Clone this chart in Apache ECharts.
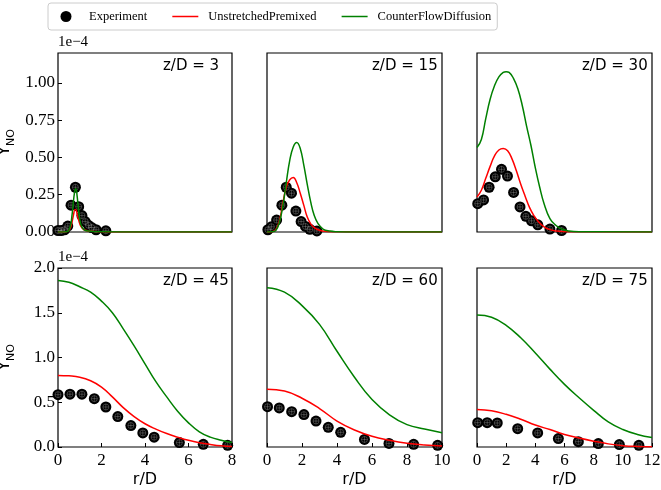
<!DOCTYPE html>
<html><head><meta charset="utf-8">
<script src="https://cdn.jsdelivr.net/npm/echarts@6/dist/echarts.min.js"></script>
<style>html,body{margin:0;padding:0;background:#fff}#c{width:661px;height:490px}</style>
</head><body><div id="c"></div>
<script>
// ---- labels / axes ----
const panelLabels = ['z/D = 3', 'z/D = 15', 'z/D = 30', 'z/D = 45', 'z/D = 60', 'z/D = 75'];
const colXMax = [8, 10, 12];
const rowYMax = [1.2, 2.0];
const rowYInterval = [0.25, 0.5];
const legendNames = ['Experiment', 'UnstretchedPremixed', 'CounterFlowDiffusion'];

// ---- data (Y_NO in units of 1e-4) ----
// z/D = 3
const exp3X = [0.0, 0.15, 0.3, 0.45, 0.6, 0.8, 0.95, 1.1, 1.25, 1.4, 1.55, 1.75, 2.2];
const exp3Y = [0.01, 0.01, 0.015, 0.04, 0.18, 0.30, 0.17, 0.11, 0.07, 0.045, 0.03, 0.015, 0.008];
const mod3X = [0, 0.4, 0.55, 0.65, 0.72, 0.78, 0.82, 0.88, 0.95, 1.05, 1.2, 1.5, 2, 3, 8];
const prem3Y = [0, 0.002, 0.02, 0.07, 0.12, 0.15, 0.15, 0.12, 0.08, 0.04, 0.015, 0.005, 0.002, 0, 0];
const cfd3Y = [0, 0.002, 0.03, 0.12, 0.22, 0.28, 0.29, 0.24, 0.14, 0.05, 0.015, 0.005, 0.001, 0, 0];
// z/D = 15
const exp15X = [0.05, 0.25, 0.55, 0.85, 1.1, 1.4, 1.65, 1.95, 2.2, 2.45, 2.85];
const exp15Y = [0.015, 0.035, 0.08, 0.18, 0.30, 0.26, 0.14, 0.07, 0.037, 0.018, 0.007];
const prem15X = [0, 0.3, 0.5, 0.7, 0.9, 1.1, 1.3, 1.5, 1.7, 1.9, 2.1, 2.3, 2.5, 2.7, 3.0, 3.4, 4, 10];
const prem15Y = [0, 0.002, 0.015, 0.07, 0.19, 0.30, 0.35, 0.365, 0.33, 0.26, 0.18, 0.10, 0.055, 0.03, 0.012, 0.004, 0.001, 0];
const cfd15X = [0, 0.3, 0.5, 0.7, 0.9, 1.1, 1.3, 1.5, 1.7, 1.9, 2.1, 2.3, 2.5, 2.7, 2.9, 3.2, 3.6, 4.0, 5, 10];
const cfd15Y = [0, 0.001, 0.01, 0.06, 0.17, 0.33, 0.48, 0.57, 0.60, 0.56, 0.45, 0.32, 0.2, 0.11, 0.06, 0.02, 0.006, 0.002, 0, 0];
// z/D = 30
const exp30X = [0.05, 0.45, 0.83, 1.25, 1.68, 2.09, 2.51, 2.95, 3.35, 3.74, 4.17, 5.0, 5.8];
const exp30Y = [0.19, 0.215, 0.30, 0.37, 0.42, 0.375, 0.265, 0.168, 0.105, 0.075, 0.048, 0.02, 0.01];
const prem30X = [0, 0.3, 0.6, 0.9, 1.2, 1.5, 1.8, 2.1, 2.4, 2.7, 3.0, 3.3, 3.6, 3.9, 4.2, 4.6, 5.0, 5.5, 6, 12];
const prem30Y = [0.235, 0.28, 0.36, 0.44, 0.51, 0.55, 0.56, 0.545, 0.49, 0.41, 0.32, 0.24, 0.165, 0.11, 0.07, 0.035, 0.016, 0.006, 0.002, 0];
const cfd30X = [0, 0.3, 0.6, 0.9, 1.2, 1.5, 1.8, 2.0, 2.2, 2.5, 2.8, 3.1, 3.4, 3.7, 4.0, 4.3, 4.6, 5.0, 5.4, 5.8, 6.3, 7, 12];
const cfd30Y = [0.566, 0.62, 0.76, 0.89, 0.98, 1.04, 1.07, 1.075, 1.07, 1.03, 0.96, 0.85, 0.71, 0.58, 0.43, 0.30, 0.19, 0.09, 0.045, 0.02, 0.007, 0.002, 0];
// z/D = 45
const exp45X = [0, 0.55, 1.1, 1.67, 2.2, 2.75, 3.35, 3.9, 4.42, 5.58, 6.68, 7.8];
const exp45Y = [0.585, 0.59, 0.59, 0.54, 0.447, 0.34, 0.24, 0.157, 0.11, 0.049, 0.03, 0.019];
const mod45X = [0, 0.5, 1, 1.5, 2, 2.5, 3, 3.5, 4, 4.5, 5, 5.5, 6, 6.5, 7, 7.5, 8];
const prem45Y = [0.80, 0.795, 0.78, 0.74, 0.67, 0.56, 0.44, 0.34, 0.26, 0.20, 0.15, 0.11, 0.075, 0.048, 0.028, 0.013, 0.006];
const cfd45Y = [1.86, 1.84, 1.79, 1.73, 1.63, 1.50, 1.32, 1.13, 0.93, 0.73, 0.56, 0.40, 0.27, 0.17, 0.11, 0.075, 0.05];
// z/D = 60
const exp60X = [0.03, 0.7, 1.41, 2.11, 2.8, 3.5, 4.21, 5.57, 6.97, 8.38, 9.75];
const exp60Y = [0.45, 0.436, 0.395, 0.362, 0.29, 0.22, 0.164, 0.084, 0.04, 0.03, 0.019];
const mod60X = [0, 1, 2, 3, 4, 5, 6, 7, 8, 9, 10];
const prem60Y = [0.645, 0.625, 0.545, 0.43, 0.29, 0.19, 0.12, 0.075, 0.042, 0.022, 0.01];
const cfd60Y = [1.78, 1.73, 1.58, 1.37, 1.07, 0.78, 0.53, 0.36, 0.25, 0.20, 0.16];
// z/D = 75
const exp75X = [0.05, 0.7, 1.39, 2.79, 4.16, 5.58, 6.95, 8.32, 9.76, 11.1];
const exp75Y = [0.272, 0.272, 0.268, 0.205, 0.157, 0.094, 0.06, 0.038, 0.027, 0.019];
const mod75X = [0, 1, 2, 3, 4, 5, 6, 7, 8, 9, 10, 11, 12];
const prem75Y = [0.42, 0.405, 0.365, 0.31, 0.245, 0.195, 0.14, 0.10, 0.065, 0.035, 0.015, 0.006, 0.003];
const cfd75Y = [1.475, 1.45, 1.36, 1.22, 1.05, 0.87, 0.70, 0.55, 0.41, 0.28, 0.195, 0.14, 0.105];

const panels = [
  {ex: exp3X, ey: exp3Y, px: mod3X, py: prem3Y, cx: mod3X, cy: cfd3Y},
  {ex: exp15X, ey: exp15Y, px: prem15X, py: prem15Y, cx: cfd15X, cy: cfd15Y},
  {ex: exp30X, ey: exp30Y, px: prem30X, py: prem30Y, cx: cfd30X, cy: cfd30Y},
  {ex: exp45X, ey: exp45Y, px: mod45X, py: prem45Y, cx: mod45X, cy: cfd45Y},
  {ex: exp60X, ey: exp60Y, px: mod60X, py: prem60Y, cx: mod60X, cy: cfd60Y},
  {ex: exp75X, ey: exp75Y, px: mod75X, py: prem75Y, cx: mod75X, cy: cfd75Y}
];

// ---- layout ----
const colLeft = [58, 267, 477];
const colWidth = [174, 175, 175];
const rowTop = [53, 268];
const plotH = 179;
const serif = '"Liberation Serif", "Times New Roman", serif';
const sans = '"DejaVu Sans", sans-serif';

const zip = (a, b) => a.map((v, i) => [v, b[i]]);

const grids = [], xAxes = [], yAxes = [], series = [], graphics = [];
for (let i = 0; i < 6; i++) {
  const r = Math.floor(i / 3), c = i % 3;
  grids.push({left: colLeft[c], top: rowTop[r], width: colWidth[c], height: plotH,
    show: true, borderColor: '#000', borderWidth: 1.2, backgroundColor: 'transparent',
    containLabel: false, outerBoundsMode: 'none'});
  const bottom = r === 1;
  xAxes.push({type: 'value', gridIndex: i, min: 0, max: colXMax[c], interval: 2,
    axisLine: {show: false}, splitLine: {show: false},
    axisTick: {show: bottom, inside: true, length: 4, lineStyle: {color: '#000', width: 1}},
    axisLabel: {show: bottom, fontFamily: serif, fontSize: 17, color: '#000', margin: 5},
    name: bottom ? 'r/D' : '', nameLocation: 'middle', nameGap: 25,
    nameTextStyle: {fontFamily: sans, fontSize: 16, color: '#000'}});
  const left = c === 0;
  yAxes.push({type: 'value', gridIndex: i, min: 0, max: rowYMax[r], interval: rowYInterval[r],
    axisLine: {show: false}, splitLine: {show: false},
    axisTick: {show: left, inside: true, length: 4, lineStyle: {color: '#000', width: 1}},
    axisLabel: {show: left, showMaxLabel: r === 1, fontFamily: serif, fontSize: 17, color: '#000', margin: 3,
      formatter: v => (Math.abs(v / rowYInterval[r] - Math.round(v / rowYInterval[r])) < 1e-6) ? v.toFixed(r === 0 ? 2 : 1) : ''},
    name: left ? '{y|Y}{s|NO}' : '', nameLocation: 'middle', nameRotate: 90, nameGap: 41,
    nameTextStyle: {color: '#000', rich: {
      y: {fontFamily: sans, fontSize: 16, lineHeight: 20, verticalAlign: 'top', color: '#000'},
      s: {fontFamily: sans, fontSize: 11, lineHeight: 10, verticalAlign: 'bottom', color: '#000'}}}});
  const p = panels[i];
  series.push({name: 'Experiment', type: 'scatter', xAxisIndex: i, yAxisIndex: i,
    data: zip(p.ex, p.ey), symbol: 'circle', symbolSize: 11, z: 2,
    itemStyle: {color: '#000', opacity: 1}});
  series.push({name: 'exp-pattern', type: 'scatter', xAxisIndex: i, yAxisIndex: i,
    data: zip(p.ex, p.ey), symbol: 'path://M-1,0 A1,1 0 1,0 1,0 A1,1 0 1,0 -1,0 M0,-1 L0,1 M-1,0 L1,0',
    symbolSize: 6, z: 3, silent: true,
    itemStyle: {color: 'transparent', borderColor: 'rgba(255,255,255,0.4)', borderWidth: 0.7}});
  series.push({name: 'UnstretchedPremixed', type: 'line', xAxisIndex: i, yAxisIndex: i,
    data: zip(p.px, p.py), symbol: 'none', smooth: 0.45, z: 4,
    lineStyle: {color: '#ff0000', width: 1.5}, itemStyle: {color: '#ff0000'}});
  series.push({name: 'CounterFlowDiffusion', type: 'line', xAxisIndex: i, yAxisIndex: i,
    data: zip(p.cx, p.cy), symbol: 'none', smooth: 0.45, z: 5,
    lineStyle: {color: '#008000', width: 1.5}, itemStyle: {color: '#008000'}});
  graphics.push({type: 'text', left: colLeft[c] + 105, top: rowTop[r] + 6, z: 10,
    style: {text: panelLabels[i], font: '15px ' + sans, fill: '#000'}});
}
graphics.push({type: 'text', left: 58, top: 35, style: {text: '1e\u22124', font: '15px ' + serif, fill: '#000'}});
graphics.push({type: 'text', left: 58, top: 250, style: {text: '1e\u22124', font: '15px ' + serif, fill: '#000'}});

// legend icons: 31x12 box (26 px handle + 5 px extra gap before text)
const iconMarker = 'path://M0,0 M31,12 M7.5,6 A5.5,5.5 0 1,0 18.5,6 A5.5,5.5 0 1,0 7.5,6 Z';
const iconLine = 'path://M0,0 M31,12 M0,5.25 L26,5.25 L26,6.75 L0,6.75 Z';

const chart = echarts.init(document.getElementById('c'), null, {renderer: 'canvas'});
chart.setOption({
  animation: false,
  backgroundColor: '#fff',
  legend: {
    data: [
      {name: legendNames[0], icon: iconMarker, itemStyle: {color: '#000'}},
      {name: legendNames[1], icon: iconLine, itemStyle: {color: '#ff0000'}},
      {name: legendNames[2], icon: iconLine, itemStyle: {color: '#008000'}}
    ],
    left: 48, top: 3, padding: [7, 6, 7, 5], itemGap: 25,
    itemWidth: 31, itemHeight: 12, borderColor: '#cccccc', borderWidth: 1, borderRadius: 3,
    backgroundColor: '#fff', selectedMode: false,
    textStyle: {fontFamily: serif, fontSize: 12.5, color: '#000'}},
  grid: grids, xAxis: xAxes, yAxis: yAxes, series: series, graphic: graphics
});
</script></body></html>
